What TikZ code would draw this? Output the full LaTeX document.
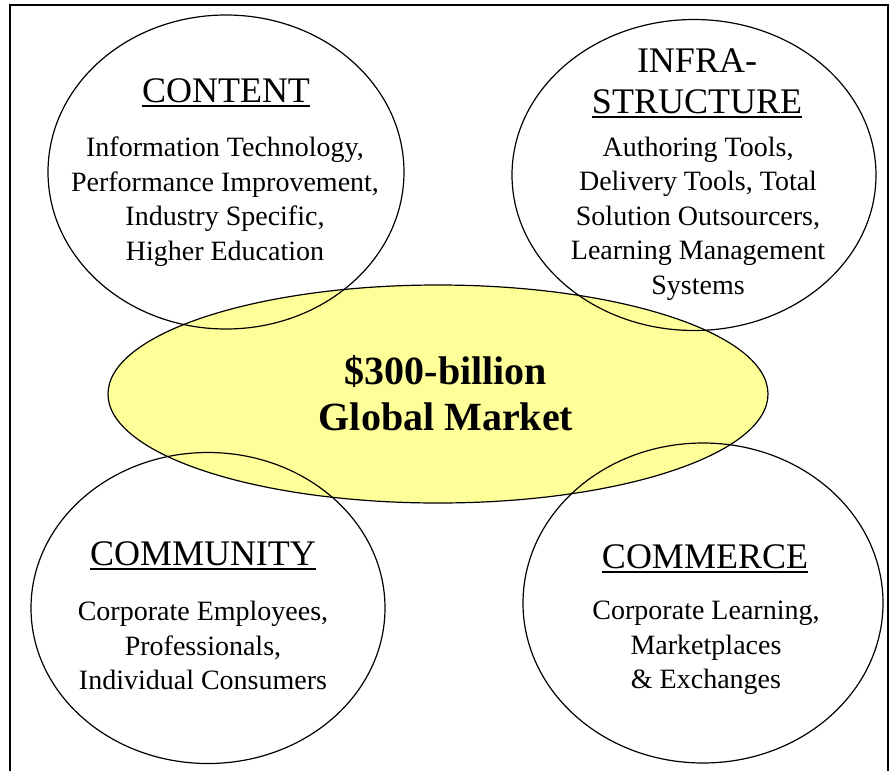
\documentclass[tikz,border=0pt]{standalone}
\usepackage{fontspec}
\setmainfont{Liberation Serif}
\usepackage{xcolor}
\usepackage{tikz}
\usetikzlibrary{shapes.geometric}
\definecolor{mkYellow}{HTML}{FFFF99}
\newcommand{\ttlrule}[1]{\setbox0\hbox{#1}\rlap{\rule[-5pt]{\wd0}{1.8pt}}\box0}
\tikzset{
  ring/.style={draw=black, ellipse, line width=1.2pt, inner sep=0pt},
  hub/.style={ring, fill=mkYellow},
  ringtitle/.style={anchor=base, inner sep=0pt, font=\fontsize{36}{41}\selectfont},
  ringbody/.style={align=center, inner sep=0pt, font=\fontsize{28}{34.5}\selectfont},
  hubtext/.style={align=center, inner sep=0pt, font=\bfseries\fontsize{40}{46}\selectfont},
}

\begin{document}
\begin{tikzpicture}[x=1pt, y=-1pt]
\useasboundingbox (0,0) rectangle (896,771);
\draw[line width=2pt] (10,771) -- (10,5) -- (888,5) -- (888,771);

\node[hub, minimum width=660pt, minimum height=218pt] (market) at (438,394) {};
\node[ring, minimum width=356pt, minimum height=314pt] (content) at (226,172) {};
\node[ring, minimum width=364pt, minimum height=311pt] (infra) at (694,175) {};
\node[ring, minimum width=354pt, minimum height=311pt] (community) at (208,608) {};
\node[ring, minimum width=360pt, minimum height=320pt] (commerce) at (703,603) {};

\node[hubtext] (marketText) at (446,393) {\$300-billion\\Global Market};

\node[ringtitle] (contentTitle) at (226,102) {\ttlrule{CONTENT}};
\node[ringbody] (contentBody) at (225,201.5) {Information Technology,\\Performance Improvement,\\Industry Specific,\\Higher Education};

\node[ringtitle] (infraTitleA) at (697,72) {INFRA-};
\node[ringtitle] (infraTitleB) at (697,113) {\ttlrule{STRUCTURE}};
\node[ringbody] (infraBody) at (698,218.5) {Authoring Tools,\\Delivery Tools, Total\\Solution Outsourcers,\\Learning Management\\Systems};

\node[ringtitle] (communityTitle) at (203,565) {\ttlrule{COMMUNITY}};
\node[ringbody] (communityBody) at (203,645.5) {Corporate Employees,\\Professionals,\\Individual Consumers};

\node[ringtitle] (commerceTitle) at (705,568) {\ttlrule{COMMERCE}};
\node[ringbody] (commerceBody) at (706,648) {Corporate Learning,\\Marketplaces\\\& Exchanges};
\end{tikzpicture}
\end{document}
